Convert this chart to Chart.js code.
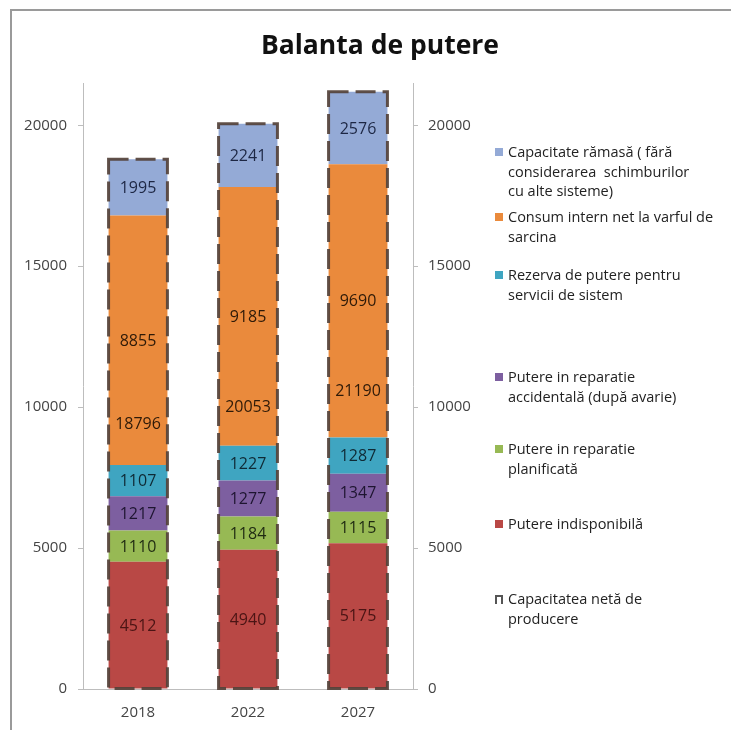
<!DOCTYPE html>
<html><head><meta charset="utf-8">
<script src="https://cdn.jsdelivr.net/npm/chart.js@4.4.1/dist/chart.umd.min.js"></script>
<style>
html,body{margin:0;padding:0;background:#fff;overflow:hidden;}
#wrap{position:relative;width:731px;height:730px;overflow:hidden;font-family:"Open Sans",sans-serif;background:#fff;}
#frame{position:absolute;left:10px;top:9px;width:900px;height:900px;border-left:2px solid #9a9a9a;border-top:2px solid #9a9a9a;}
canvas{position:absolute;left:0;top:0;}
#title{position:absolute;left:200px;width:360px;top:26px;text-align:center;font-weight:bold;font-size:26.5px;color:#111;line-height:36px;}
.leg{position:absolute;left:508px;font-size:14.5px;line-height:19.5px;color:#222;white-space:pre;}
.mk{position:absolute;left:-13px;top:6px;width:8px;height:8px;}
</style></head>
<body><div id="wrap"><div id="frame"></div><canvas id="c" width="731" height="730"></canvas><div id="title">Balanta de putere</div><div id="legend"></div></div>
<script>
// ---- data ----
const categories = ['2018', '2022', '2027'];
const indisponibila = [4512, 4940, 5175];
const reparatiePlanificata = [1110, 1184, 1115];
const reparatieAccidentala = [1217, 1277, 1347];
const rezervaServicii = [1107, 1227, 1287];
const consumIntern = [8855, 9185, 9690];
const capacitateRamasa = [1995, 2241, 2576];
const capacitateNeta = [18796, 20053, 21190];
const yTicks = [0, 5000, 10000, 15000, 20000];

const seriesNames = {
  indisponibila: ['Putere indisponibilă'],
  planificata: ['Putere in reparatie', 'planificată'],
  accidentala: ['Putere in reparatie', 'accidentală (după avarie)'],
  rezerva: ['Rezerva de putere pentru', 'servicii de sistem'],
  consum: ['Consum intern net la varful de', 'sarcina'],
  ramasa: ['Capacitate rămasă ( fără', 'considerarea  schimburilor', 'cu alte sisteme)'],
  neta: ['Capacitatea netă de', 'producere']
};

// ---- styles ----
const COLORS = {
  indisponibila: '#B94845', planificata: '#97B954', accidentala: '#7D5FA0',
  rezerva: '#3FA5C1', consum: '#EA8A3C', ramasa: '#94AAD6'
};
const LABEL_COLORS = {
  indisponibila: '#4a1414', planificata: '#1f2a12', accidentala: '#1e1530',
  rezerva: '#0f2a35', consum: '#2e1a08', ramasa: '#1d2744', neta: '#2e1a08'
};

const datasets = [
  {key:'indisponibila', data: indisponibila},
  {key:'planificata', data: reparatiePlanificata},
  {key:'accidentala', data: reparatieAccidentala},
  {key:'rezerva', data: rezervaServicii},
  {key:'consum', data: consumIntern},
  {key:'ramasa', data: capacitateRamasa}
].map(d => ({
  label: seriesNames[d.key].join(' '), key: d.key, data: d.data,
  backgroundColor: COLORS[d.key], borderWidth: 0, stack: 'parts'
}));
datasets.push({
  label: seriesNames.neta.join(' '), key: 'neta', data: capacitateNeta,
  backgroundColor: 'rgba(0,0,0,0)', borderWidth: 0, stack: 'total'
});

const overlay = {
  id: 'overlay',
  afterDatasetsDraw(chart) {
    const ctx = chart.ctx;
    const dsIdx = chart.data.datasets.findIndex(d => d.key === 'neta');
    const meta = chart.getDatasetMeta(dsIdx);
    ctx.save();
    ctx.setLineDash([20, 7]);
    ctx.lineWidth = 3;
    ctx.strokeStyle = 'rgba(84,66,58,0.92)';
    meta.data.forEach(el => {
      const p = el.getProps(['x', 'y', 'base', 'width'], true);
      ctx.strokeRect(p.x - p.width / 2, p.y, p.width, p.base - p.y);
    });
    ctx.restore();
    ctx.save();
    ctx.font = '16px "Open Sans"';
    ctx.textAlign = 'center';
    ctx.textBaseline = 'middle';
    chart.data.datasets.forEach((ds, i) => {
      const m = chart.getDatasetMeta(i);
      m.data.forEach((el, j) => {
        const p = el.getProps(['x', 'y', 'base'], true);
        ctx.fillStyle = LABEL_COLORS[ds.key];
        ctx.fillText(String(ds.data[j]), p.x, (p.y + p.base) / 2 + 1);
      });
    });
    ctx.restore();
  }
};

const tickFont = {family: 'Open Sans', size: 15};
const axisColor = '#bdbdbd';
const setTicks = axis => { axis.ticks = yTicks.map(v => ({value: v})); };
const plainNumber = v => String(v);

new Chart(document.getElementById('c'), {
  type: 'bar',
  data: {labels: categories, datasets},
  plugins: [overlay],
  options: {
    responsive: false, animation: false,
    layout: {padding: {top: 83, left: 0, right: 0, bottom: 0}},
    datasets: {bar: {grouped: false, barPercentage: 0.535, categoryPercentage: 1}},
    plugins: {legend: {display: false}, title: {display: false}, tooltip: {enabled: false}},
    scales: {
      x: {
        grid: {display: false, drawTicks: false},
        border: {display: true, color: axisColor, width: 1},
        ticks: {padding: 15, color: '#444', font: tickFont},
        afterFit: s => { s.height = 41; }
      },
      y: {
        position: 'left', stacked: true, min: 0, max: 21500,
        afterBuildTicks: setTicks,
        grid: {drawOnChartArea: false, drawTicks: true, tickLength: 5, color: axisColor},
        border: {display: true, color: axisColor, width: 1},
        ticks: {padding: 11, color: '#444', font: tickFont, callback: plainNumber},
        afterFit: s => { s.width = 83; }
      },
      y1: {
        position: 'right', min: 0, max: 21500,
        afterBuildTicks: setTicks,
        grid: {drawOnChartArea: false, drawTicks: true, tickLength: 5, color: axisColor},
        border: {display: true, color: axisColor, width: 1},
        ticks: {padding: 10, color: '#444', font: tickFont, callback: plainNumber},
        afterFit: s => { s.width = 318; }
      }
    }
  }
});

// ---- HTML legend ----
const legendOrder = ['ramasa', 'consum', 'rezerva', 'accidentala', 'planificata', 'indisponibila', 'neta'];
const legendTops = [142, 207, 265, 367, 439, 514, 589];
const legend = document.getElementById('legend');
legendOrder.forEach((k, i) => {
  const div = document.createElement('div');
  div.className = 'leg';
  div.style.top = legendTops[i] + 'px';
  const mk = document.createElement('span');
  mk.className = 'mk';
  if (k === 'neta') {
    mk.style.boxSizing = 'border-box';
    mk.style.borderTop = '2px solid #555';
    mk.style.borderLeft = '2px solid #555';
    mk.style.borderRight = '2px dashed #555';
    mk.style.height = '9px';
  } else {
    mk.style.background = COLORS[k];
  }
  div.appendChild(mk);
  seriesNames[k].forEach((line, li) => {
    if (li) div.appendChild(document.createElement('br'));
    div.appendChild(document.createTextNode(line));
  });
  legend.appendChild(div);
});
</script>
</body></html>
